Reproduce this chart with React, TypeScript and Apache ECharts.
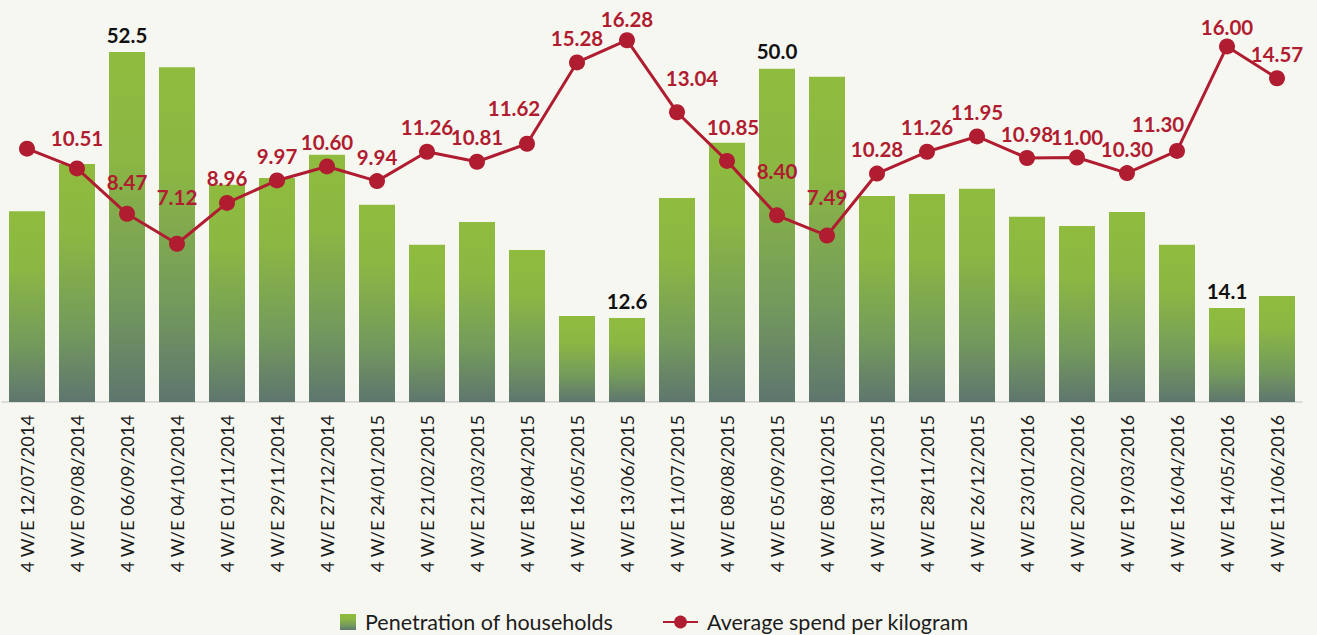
import React, { useEffect, useRef } from "react";
import * as echarts from "echarts";

const categories = [
  "4 W/E 12/07/2014", "4 W/E 09/08/2014", "4 W/E 06/09/2014", "4 W/E 04/10/2014",
  "4 W/E 01/11/2014", "4 W/E 29/11/2014", "4 W/E 27/12/2014", "4 W/E 24/01/2015",
  "4 W/E 21/02/2015", "4 W/E 21/03/2015", "4 W/E 18/04/2015", "4 W/E 16/05/2015",
  "4 W/E 13/06/2015", "4 W/E 11/07/2015", "4 W/E 08/08/2015", "4 W/E 05/09/2015",
  "4 W/E 08/10/2015", "4 W/E 31/10/2015", "4 W/E 28/11/2015", "4 W/E 26/12/2015",
  "4 W/E 23/01/2016", "4 W/E 20/02/2016", "4 W/E 19/03/2016", "4 W/E 16/04/2016",
  "4 W/E 14/05/2016", "4 W/E 11/06/2016",
];

const penetration = [
  28.6, 35.7, 52.5, 50.2, 32.6, 33.6, 37.1, 29.6, 23.6, 27.0, 22.8, 12.9, 12.6,
  30.6, 38.9, 50.0, 48.8, 30.9, 31.2, 32.0, 27.8, 26.4, 28.5, 23.6, 14.1, 15.9,
];

const avgSpend = [
  11.4, 10.51, 8.47, 7.12, 8.96, 9.97, 10.6, 9.94, 11.26, 10.81, 11.62, 15.28, 16.28,
  13.04, 10.85, 8.4, 7.49, 10.28, 11.26, 11.95, 10.98, 11.0, 10.3, 11.3, 16.0, 14.57,
];

// bars whose value is printed (yearly highest / lowest)
const labelledBars = [2, 12, 15, 24];
// line points whose value label is not printed
const hiddenLineLabels = [0];

const RED = "#b01c30";
const BG = "#f7f7f1";
const FONT = "Lato, 'Noto Sans', sans-serif";

// small label nudges (style only)
const lineLabelNudge: Record<number, [number, number]> = {
  1: [0, -6],
  2: [0, -7],
  3: [0, -22],
  10: [-13, -11],
  12: [0, 3],
  13: [15, -10],
  14: [6, -9],
  15: [0, -20],
  16: [0, -14],
  21: [0, 4],
  23: [-19, -2],
  24: [0, 5],
};

export default function App() {
  const ref = useRef<HTMLDivElement>(null);

  useEffect(() => {
    if (!ref.current) return;
    const chart = echarts.init(ref.current, undefined, { renderer: "svg" });

    const barGradient = new echarts.graphic.LinearGradient(0, 0, 0, 1, [
      { offset: 0, color: "#8fbc3e" },
      { offset: 0.3, color: "#8bb743" },
      { offset: 0.7, color: "#749a5c" },
      { offset: 1, color: "#5e766f" },
    ]);

    const barData = penetration.map((v, i) => ({
      value: v,
      label: { show: labelledBars.includes(i) },
    }));

    const lineData = avgSpend.map((v, i) => {
      const nudge = lineLabelNudge[i] || [0, 0];
      return {
        value: v,
        label: {
          show: !hiddenLineLabels.includes(i),
          offset: nudge,
        },
      };
    });

    const legendText = {
      fontSize: 21.5,
      lineHeight: 20,
      color: "#1c1c1c",
      fontFamily: FONT,
      padding: [0, 0, 0, 4],
    };

    chart.setOption({
      animation: false,
      backgroundColor: BG,
      textStyle: { fontFamily: FONT },
      grid: { left: 2, right: 15, top: 2, bottom: 233, containLabel: false },
      legend: [
        {
          data: ["Penetration of households"],
          left: 335,
          top: 606,
          itemWidth: 16,
          itemHeight: 16,
          icon: "rect",
          textStyle: legendText,
        },
        {
          data: ["Average spend per kilogram"],
          left: 657,
          top: 606,
          itemWidth: 35,
          itemHeight: 16,
          textStyle: legendText,
        },
      ],
      xAxis: {
        type: "category",
        data: categories,
        axisLine: { show: true, lineStyle: { color: "#dcdcd8", width: 2 } },
        axisTick: { show: false },
        axisLabel: {
          interval: 0,
          rotate: 90,
          margin: 13,
          fontSize: 18.2,
          color: "#1a1a1a",
          fontFamily: FONT,
        },
      },
      yAxis: [
        { type: "value", min: 0, max: 60, show: false, splitLine: { show: false } },
        { type: "value", min: 0, max: 18, show: false, splitLine: { show: false } },
      ],
      series: [
        {
          name: "Penetration of households",
          type: "bar",
          data: barData,
          barWidth: "72%",
          itemStyle: { color: barGradient },
          label: {
            position: "top",
            distance: 7,
            fontSize: 20.5,
            fontWeight: "bold",
            color: "#111111",
            fontFamily: FONT,
            formatter: (p: any) => Number(p.value).toFixed(1),
          },
          z: 1,
        },
        {
          name: "Average spend per kilogram",
          type: "line",
          yAxisIndex: 1,
          data: lineData,
          symbol: "circle",
          symbolSize: 16,
          lineStyle: { color: RED, width: 3 },
          itemStyle: { color: RED },
          label: {
            position: "top",
            distance: 6,
            fontSize: 20.5,
            fontWeight: "bold",
            color: RED,
            fontFamily: FONT,
            formatter: (p: any) => Number(p.value).toFixed(2),
          },
          z: 3,
        },
      ],
    });

    return () => chart.dispose();
  }, []);

  return (
    <div
      style={{ position: "fixed", left: 0, top: 0, width: 1317, height: 635, background: BG }}
    >
      <div ref={ref} style={{ width: 1317, height: 635 }} />
    </div>
  );
}
